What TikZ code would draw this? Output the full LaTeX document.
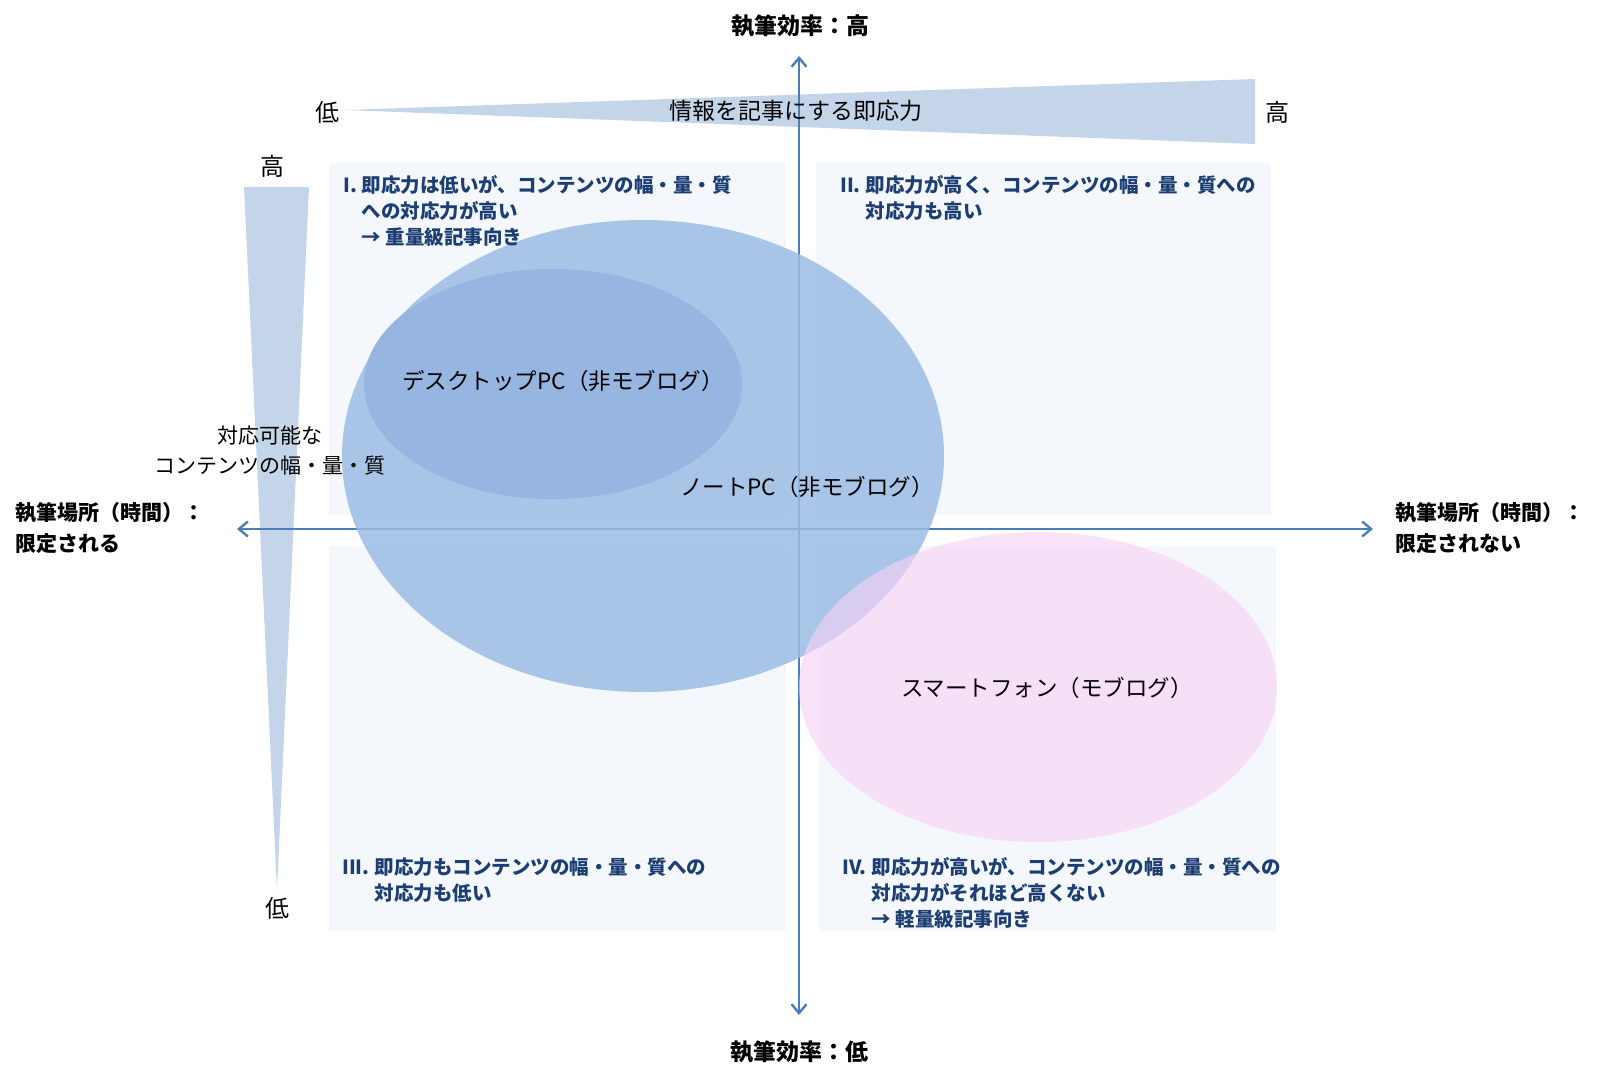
\documentclass[tikz,border=0pt]{standalone}
\usepackage{fontspec}
\setmainfont{Noto Sans CJK JP}
\usetikzlibrary{arrows.meta}
\definecolor{axisblue}{RGB}{74,126,187}
\definecolor{tri}{RGB}{196,213,233}
\definecolor{quad}{RGB}{244,248,252}
\definecolor{bigell}{RGB}{155,187,228}
\definecolor{deskell}{RGB}{150,181,225}
\definecolor{pinkell}{RGB}{247,210,246}
\definecolor{qtextc}{RGB}{28,62,115}
\tikzset{
  quadbox/.style={fill=quad, draw=none},
  triangle/.style={fill=tri, draw=none},
  axisline/.style={draw=axisblue, line width=2.4pt, {Straight Barb[length=9pt,width=15pt]}-{Straight Barb[length=9pt,width=15pt]}},
  qtext/.style={font=\fontsize{19.5}{26}\selectfont\bfseries, text=qtextc, inner sep=0pt, anchor=base west},
  axlabel/.style={font=\fontsize{21}{31}\selectfont\bfseries, inner sep=0pt, anchor=base west},
  toplabel/.style={font=\fontsize{23}{28}\selectfont\bfseries, inner sep=0pt, anchor=base},
  ellabel/.style={font=\fontsize{22.5}{28}\selectfont, inner sep=0pt, anchor=base},
  trilabel/.style={font=\fontsize{24}{28}\selectfont, inner sep=0pt, anchor=base},
  sidelabel/.style={font=\fontsize{21}{30}\selectfont, inner sep=0pt, anchor=base},
}
\begin{document}
\begin{tikzpicture}[x=1pt,y=-1pt]
\useasboundingbox (0,0) rectangle (1600,1080);
\fill[white] (0,0) rectangle (1600,1080);

% quadrant backgrounds
\fill[quadbox] (329,163) rectangle (786,515);
\fill[quadbox] (816,163) rectangle (1271,515);
\fill[quadbox] (329,546) rectangle (786,931);
\fill[quadbox] (819,546) rectangle (1276,931);

% wedges
\fill[triangle] (345,110) -- (1255,79) -- (1255,144) -- cycle;
\fill[triangle] (244,187) -- (309,187) -- (277,890) -- cycle;

% axes
\coordinate (vtop) at (799,56);
\coordinate (vbot) at (799,1015);
\coordinate (hleft) at (237,529);
\coordinate (hright) at (1373,529);
\draw[axisline] (vbot) -- (vtop);
\draw[axisline] (hleft) -- (hright);

% ellipses
\fill[bigell, fill opacity=0.85] (643,456) ellipse [x radius=301, y radius=236];
\fill[deskell] (553,384) ellipse [x radius=189, y radius=115];
\fill[pinkell, fill opacity=0.62] (1038,687) ellipse [x radius=239, y radius=155];

% axis labels
\node[toplabel] (effhigh) at (800,34) {執筆効率：高};
\node[toplabel] (efflow) at (799,1060) {執筆効率：低};
\node[axlabel] (placeL) at (15,520) {\begin{tabular}[t]{@{}l@{}}執筆場所（時間）：\\限定される\end{tabular}};
\node[axlabel] (placeR) at (1395,520) {\begin{tabular}[t]{@{}l@{}}執筆場所（時間）：\\限定されない\end{tabular}};

% wedge labels
\node[trilabel] (tlow) at (327,121) {低};
\node[trilabel] (thigh) at (1277,121) {高};
\node[font=\fontsize{23}{28}\selectfont, inner sep=0pt, anchor=base] (speed) at (796,119) {情報を記事にする即応力};
\node[trilabel] (lhigh) at (272,175) {高};
\node[trilabel] (llow) at (277,917) {低};
\node[sidelabel] (cap) at (270,443) {\begin{tabular}[t]{@{}c@{}}対応可能な\\コンテンツの幅・量・質\end{tabular}};

% quadrant texts
\node[qtext] (q1) at (343,192) {\begin{tabular}[t]{@{}l@{\hspace{5pt}}l@{}}I. & 即応力は低いが、コンテンツの幅・量・質\\ & への対応力が高い\\ & → 重量級記事向き\end{tabular}};
\node[qtext] (q2) at (840,192) {\begin{tabular}[t]{@{}l@{\hspace{5pt}}l@{}}II. & 即応力が高く、コンテンツの幅・量・質への\\ & 対応力も高い\end{tabular}};
\node[qtext] (q3) at (342,874) {\begin{tabular}[t]{@{}l@{\hspace{5pt}}l@{}}III. & 即応力もコンテンツの幅・量・質への\\ & 対応力も低い\end{tabular}};
\node[qtext] (q4) at (842,874) {\begin{tabular}[t]{@{}l@{\hspace{5pt}}l@{}}IV. & 即応力が高いが、コンテンツの幅・量・質への\\ & 対応力がそれほど高くない\\ & → 軽量級記事向き\end{tabular}};

% ellipse labels
\node[ellabel] (desk) at (563,389) {デスクトップPC（非モブログ）};
\node[ellabel] (note) at (807,495) {ノートPC（非モブログ）};
\node[ellabel] (phone) at (1047,696) {スマートフォン（モブログ）};
\end{tikzpicture}
\end{document}
